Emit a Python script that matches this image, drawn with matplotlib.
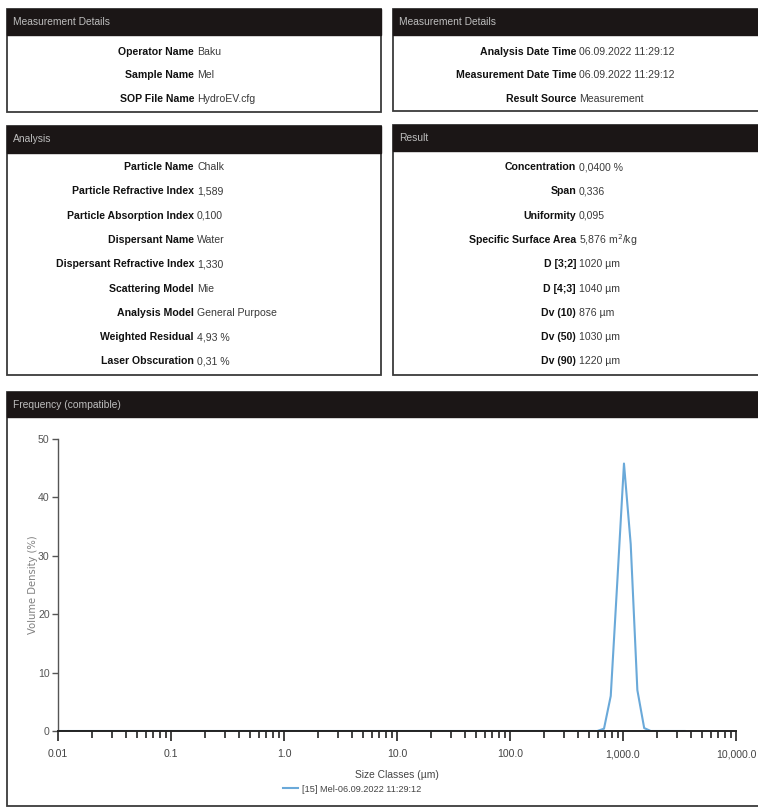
import numpy as np
import matplotlib
matplotlib.use('Agg')
import matplotlib.pyplot as plt
from matplotlib.patches import Rectangle
from matplotlib.ticker import FixedLocator, LogLocator, NullFormatter, FuncFormatter

plt.rcParams['font.family'] = ['Liberation Sans Narrow', 'Liberation Sans', 'DejaVu Sans']

#%% data
meas_labels = ['Operator Name', 'Sample Name', 'SOP File Name']
meas_values = ['Baku', 'Mel', 'HydroEV.cfg']

date_labels = ['Analysis Date Time', 'Measurement Date Time', 'Result Source']
date_values = ['06.09.2022 11:29:12', '06.09.2022 11:29:12', 'Measurement']

analysis_labels = ['Particle Name', 'Particle Refractive Index', 'Particle Absorption Index',
                   'Dispersant Name', 'Dispersant Refractive Index', 'Scattering Model',
                   'Analysis Model', 'Weighted Residual', 'Laser Obscuration']
analysis_values = ['Chalk', '1,589', '0,100', 'Water', '1,330', 'Mie',
                   'General Purpose', '4,93 %', '0,31 %']

result_labels = ['Concentration', 'Span', 'Uniformity', 'Specific Surface Area',
                 'D [3;2]', 'D [4;3]', 'Dv (10)', 'Dv (50)', 'Dv (90)']
result_values = ['0,0400 %', '0,336', '0,095', '5,876 m$^2$/kg',
                 '1020 µm', '1040 µm', '876 µm', '1030 µm', '1220 µm']

# size classes (um) and volume density (%)
size_um = [0.01, 592, 679, 779, 893, 1020, 1170, 1340, 1540, 1760, 3500]
vol_density = [0.0, 0.0, 0.4, 6.0, 26.0, 45.8, 32.0, 7.0, 0.5, 0.0, 0.0]
series_name = '[15] Mel-06.09.2022 11:29:12'

x_ticks = [0.01, 0.1, 1, 10, 100, 1000, 10000]
x_ticklabels = ['0.01', '0.1', '1.0', '10.0', '100.0', '1,000.0', '10,000.0']
y_ticks = [0, 10, 20, 30, 40, 50]

#%% figure
W, H = 758, 808
fig = plt.figure(figsize=(W / 100, H / 100), dpi=100)
bg = fig.add_axes([0, 0, 1, 1])
bg.set_xlim(0, W)
bg.set_ylim(H, 0)
bg.axis('off')

hdr_col = '#1b1616'
edge_col = '#3a3a3a'
fnt = 7.6


def panel(x0, x1, y0, y1, hh, title):
    bg.add_patch(Rectangle((x0, y0), x1 - x0, y1 - y0, fc='white', ec=edge_col, lw=1.3))
    bg.add_patch(Rectangle((x0, y0), x1 - x0, hh, fc=hdr_col, ec=hdr_col, lw=1.0))
    bg.text(x0 + 6, y0 + hh / 2, title, color='#bdbdbd', fontsize=7.4, va='center', ha='left')


def rows(xc, y_first, dy, labels, values):
    for i, (lab, val) in enumerate(zip(labels, values)):
        y = y_first + i * dy
        bg.text(xc, y, lab, ha='right', va='center', fontsize=fnt, fontweight='bold', color='#111111')
        bg.text(xc + 3, y, val, ha='left', va='center', fontsize=fnt, color='#3a3a3a')


panel(7, 381, 9, 112, 26, 'Measurement Details')
panel(393, 760, 9, 111, 26, 'Measurement Details')
panel(7, 381, 126, 375, 27, 'Analysis')
panel(393, 760, 125, 375, 26, 'Result')
panel(7, 760, 392, 806, 25, 'Frequency (compatible)')

rows(194, 52, 23.5, meas_labels, meas_values)
rows(576, 52, 23.5, date_labels, date_values)
rows(194, 167, 24.3, analysis_labels, analysis_values)
rows(576, 167, 24.3, result_labels, result_values)

#%% chart
ax = fig.add_axes([58 / W, 1 - 731 / H, 678 / W, 292 / H])
ax.plot(size_um, vol_density, color='#6aa9d9', lw=1.5, label=series_name)
ax.set_xscale('log')
ax.set_xlim(0.01, 10000)
ax.set_ylim(0, 50)
for s in ['top', 'right']:
    ax.spines[s].set_visible(False)
ax.spines['left'].set_color('#555555')
ax.spines['bottom'].set_color('#222222')
ax.spines['left'].set_linewidth(1.0)
ax.spines['bottom'].set_linewidth(1.4)

ax.xaxis.set_major_locator(FixedLocator(x_ticks))
ax.xaxis.set_major_formatter(FuncFormatter(lambda v, p: x_ticklabels[x_ticks.index(v)] if v in x_ticks else ''))
ax.xaxis.set_minor_locator(LogLocator(base=10, subs=np.arange(2, 10)))
ax.xaxis.set_minor_formatter(NullFormatter())
ax.set_yticks(y_ticks)
ax.tick_params(axis='x', which='major', length=7, width=1.2, color='#222222', labelsize=7.6,
               labelcolor='#444444', pad=6)
ax.tick_params(axis='x', which='minor', length=5, width=1.2, color='#222222')
ax.tick_params(axis='y', length=4, width=1.0, color='#555555', labelsize=7.6, labelcolor='#555555', pad=2)

ax.set_ylabel('Volume Density (%)', fontsize=7.2, color='#808080', family='DejaVu Sans', labelpad=0)
ax.set_xlabel('Size Classes (µm)', fontsize=7.4, color='#444444', labelpad=8)
ax.patch.set_alpha(0)

fig.legend(loc='center', bbox_to_anchor=(352 / W, 1 - 789 / H), frameon=False, fontsize=6.6,
           handlelength=1.6, handletextpad=0.4, labelcolor='#444444')

fig.savefig('out.png', dpi=100)
